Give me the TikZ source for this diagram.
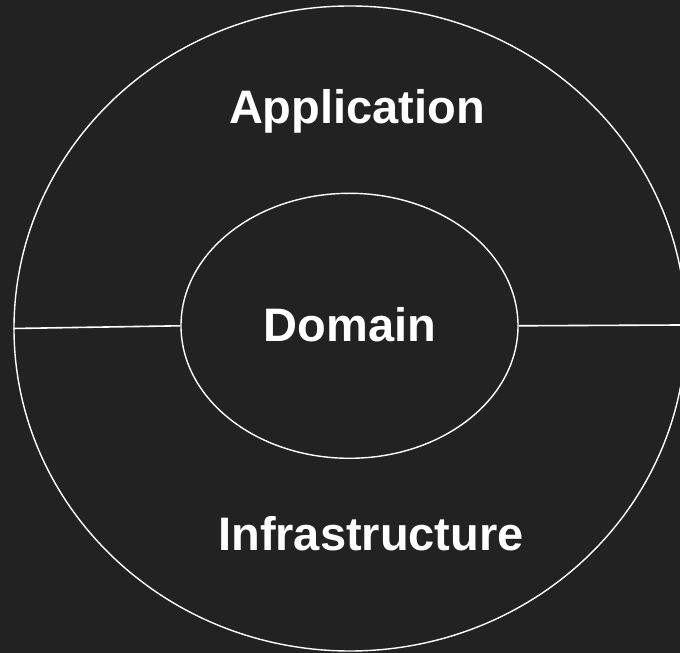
\documentclass[tikz,border=0pt]{standalone}
\usepackage{fontspec}
\setmainfont{Liberation Sans}
\usetikzlibrary{shapes.geometric}
\definecolor{bg}{HTML}{222222}
\tikzset{
  ring/.style={ellipse, draw=white, line width=1.4pt, inner sep=0pt},
  divider/.style={draw=white, line width=1.6pt},
  layer/.style={text=white, font=\fontsize{47}{56}\selectfont\bfseries, anchor=base, inner sep=0pt}
}
\begin{document}
\begin{tikzpicture}[x=1pt, y=1pt]
  \fill[bg] (0,0) rectangle (680,653);
  \useasboundingbox (0,0) rectangle (680,653);
  \clip (0,0) rectangle (680,653);
  % outer layer and the domain core
  \node[ring, minimum width=672pt, minimum height=645pt] (outer) at (350,324.5) {};
  \node[ring, minimum width=337pt, minimum height=265pt] (inner) at (349.5,327.2) {};
  \coordinate (rightend) at (681,328);
  % dividers between application and infrastructure
  \draw[divider] (outer.west) -- (inner.west);
  \draw[divider] (inner.east) -- (rightend);
  % labels
  \node[layer] (app) at (357,529.7) {Application};
  \node[layer] (dom) at (350,311.3) {Domain};
  \node[layer] (infra) at (371,102.3) {Infrastructure};
\end{tikzpicture}
\end{document}
